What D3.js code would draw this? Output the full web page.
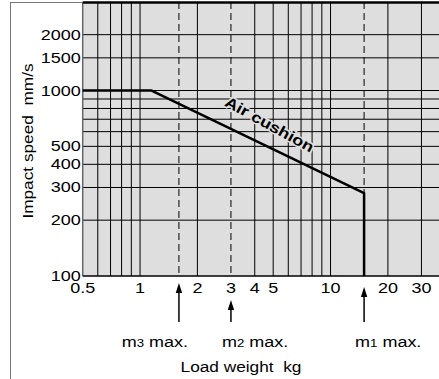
<!DOCTYPE html>
<html>
<head>
<meta charset="utf-8">
<script src="https://cdn.jsdelivr.net/npm/d3@7"></script>
<style>
    body { margin: 0; background: #fff; }
    text { font-family: "Liberation Sans", Arial, sans-serif; font-size: 15px; fill: #000; }
</style>
</head>
<body>
<div id="chart"></div>
<script>
// chart values
const xTicks = [0.5, 1, 2, 3, 4, 5, 10, 20, 30]
const xGrid = [0.6, 0.7, 0.8, 0.9, 1, 2, 4, 5, 6, 7, 8, 9, 10, 20, 30]
const yTicks = [100, 200, 300, 400, 500, 1000, 1500, 2000]
const yGrid = [200, 300, 400, 500, 600, 700, 800, 900, 1000, 1500, 2000]
const cushionWeight = [0.5, 1.15, 15, 15]
const cushionSpeed = [1000, 1000, 280, 100]
const limitNames = ["3", "2", "1"]
const limitWeight = [1.6, 3, 15]

// layout
const W = 439, H = 379
const plotLeft = 82.7, plotTop = 2, plotBottom = 276
const decade = 190.5
const sx = 1.2 // the source font is a bit wide

const svg = d3.select('#chart')
    .append('svg')
    .attr('width', W)
    .attr('height', H)

const x = d3.scaleLog()
    .domain([0.5, 40])
    .range([plotLeft, plotLeft + decade * Math.log10(80)])
const y = d3.scaleLog()
    .domain([100, 3000])
    .range([plotBottom, plotTop])

// outer frame
svg.append('rect')
    .attr('x', 10.5).attr('y', 2.5)
    .attr('width', W + 10).attr('height', H + 10)
    .attr('fill', 'none')
    .attr('stroke', '#777')
    .attr('stroke-width', 1)

// plot background
svg.append('rect')
    .attr('x', x(0.5)).attr('y', y(3000))
    .attr('width', x(40) - x(0.5))
    .attr('height', y(100) - y(3000))
    .attr('fill', '#dedede')

// grid
svg.append('g').selectAll('line')
    .data(yGrid)
    .join('line')
    .attr('x1', x(0.5)).attr('x2', x(40))
    .attr('y1', d => y(d)).attr('y2', d => y(d))
    .attr('stroke', '#000')
    .attr('stroke-width', 1)
svg.append('g').selectAll('line')
    .data(xGrid)
    .join('line')
    .attr('x1', d => x(d)).attr('x2', d => x(d))
    .attr('y1', y(3000)).attr('y2', y(100))
    .attr('stroke', '#000')
    .attr('stroke-width', 1)

// dashed limit lines (solid part of m1 comes from the curve)
svg.append('g').selectAll('line')
    .data(limitWeight)
    .join('line')
    .attr('x1', d => x(d)).attr('x2', d => x(d))
    .attr('y1', y(3000))
    .attr('y2', (d, i) => i == 2 ? y(280) : y(100))
    .attr('stroke', '#000')
    .attr('stroke-width', 1)
    .attr('stroke-dasharray', '7,4')

// axes borders
svg.append('line')
    .attr('x1', x(0.5)).attr('x2', x(0.5))
    .attr('y1', y(3000)).attr('y2', y(100))
    .attr('stroke', '#666').attr('stroke-width', 1.5)
svg.append('line')
    .attr('x1', x(0.5)).attr('x2', W)
    .attr('y1', y(100)).attr('y2', y(100))
    .attr('stroke', '#000').attr('stroke-width', 1.5)
svg.append('line')
    .attr('x1', x(0.5)).attr('x2', W)
    .attr('y1', y(3000) + 0.5).attr('y2', y(3000) + 0.5)
    .attr('stroke', '#000').attr('stroke-width', 2.5)

// air cushion curve
svg.append('path')
    .datum(d3.zip(cushionWeight, cushionSpeed))
    .attr('fill', 'none')
    .attr('stroke', '#000')
    .attr('stroke-width', 2.5)
    .attr('stroke-linejoin', 'round')
    .attr('d', d3.line()
        .x(d => x(d[0]))
        .y(d => y(d[1])))

// curve label, along the slope, with a halo over the grid
const p0 = [x(cushionWeight[1]), y(cushionSpeed[1])]
const p1 = [x(cushionWeight[2]), y(cushionSpeed[2])]
const ang = Math.atan2(p1[1] - p0[1], p1[0] - p0[0]) * 180 / Math.PI
svg.append('text')
    .attr('transform', `translate(267,129) rotate(${ang + 3}) scale(${sx},1)`)
    .attr('text-anchor', 'middle')
    .style('font-weight', 'bold')
    .style('stroke', '#dedede')
    .style('stroke-width', 3)
    .style('paint-order', 'stroke')
    .text('Air cushion')

// tick labels
svg.append('g').selectAll('text')
    .data(yTicks)
    .join('text')
    .attr('transform', d => `translate(${x(0.5) - 2},${y(d) + 5}) scale(${sx},1)`)
    .attr('text-anchor', 'end')
    .text(d => d)
svg.append('g').selectAll('text')
    .data(xTicks)
    .join('text')
    .attr('transform', d => `translate(${x(d)},293) scale(${sx},1)`)
    .attr('text-anchor', 'middle')
    .text(d => d)

// arrows + labels for max loads
const arrowTop = [283, 300, 287]
const labelAnchor = ['end', 'start', 'start']
const labelShift = [9, -9, -9]
limitWeight.forEach((w, i) => {
    const ax = x(w)
    svg.append('line')
        .attr('x1', ax).attr('x2', ax)
        .attr('y1', arrowTop[i] + 8).attr('y2', 322)
        .attr('stroke', '#000').attr('stroke-width', 1.5)
    svg.append('path')
        .attr('d', `M${ax},${arrowTop[i]} L${ax - 3.2},${arrowTop[i] + 10} L${ax + 3.2},${arrowTop[i] + 10} Z`)
        .attr('fill', '#000')
    const t = svg.append('text')
        .attr('transform', `translate(${ax + labelShift[i]},347) scale(${sx},1)`)
        .attr('text-anchor', labelAnchor[i])
    t.append('tspan').text('m')
    t.append('tspan').style('font-size', '11px').text(limitNames[i])
    t.append('tspan').text(' max.')
})

// axis titles
svg.append('text')
    .attr('transform', `translate(241,372) scale(1.15,1)`)
    .attr('text-anchor', 'middle')
    .style('white-space', 'pre')
    .text('Load weight  kg')
svg.append('text')
    .attr('transform', `translate(33,141) rotate(-90) scale(1.15,1)`)
    .attr('text-anchor', 'middle')
    .style('white-space', 'pre')
    .text('Impact speed  mm/s')
</script>
</body>
</html>
